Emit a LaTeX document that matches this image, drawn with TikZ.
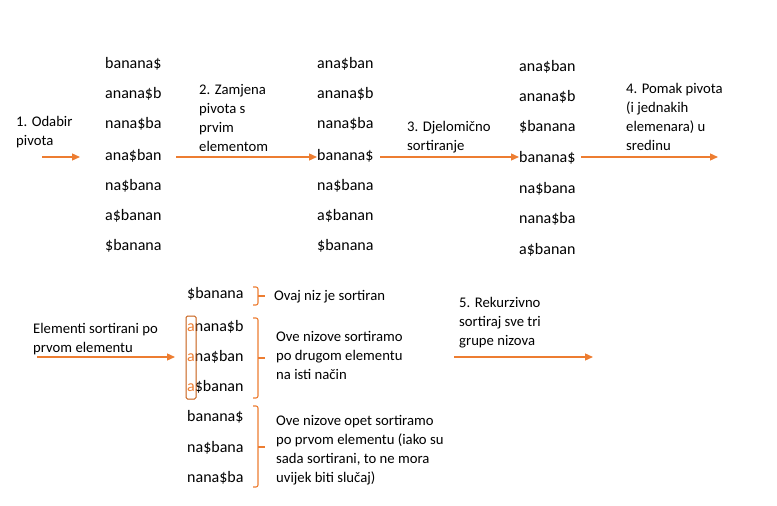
\documentclass[tikz,border=0pt]{standalone}
\usepackage{fontspec}
\setmainfont{Carlito}
\usepackage{xcolor}
\usepackage{tikz}
\usetikzlibrary{positioning,arrows.meta}
\definecolor{orng}{RGB}{237,125,49}
\definecolor{orngdk}{RGB}{197,90,17}
\tikzset{
  str/.style ={anchor=base west, inner sep=0pt, font=\fontsize{16}{19}\selectfont},
  lbl/.style ={anchor=base west, inner sep=0pt, align=left,
               font=\fontsize{14.7}{19}\selectfont},
  ar/.style  ={-{Triangle[length=8pt,width=7pt]}, draw=orng, line width=1.3pt},
  brk/.style ={draw=orng, line width=1.1pt, rounded corners=2pt},
  abox/.style={draw=orngdk, line width=1pt, rounded corners=1.5pt},
}
\newcommand{\oa}{{\color{orng}a}}

\begin{document}
\begin{tikzpicture}[x=1pt,y=-1pt]
\useasboundingbox (0,0) rectangle (777,506);
% three columns of the first step
\foreach \y/\s [count=\i] in {68/banana\$, 98/anana\$b, 128/nana\$ba, 160/ana\$ban,
                              190/na\$bana, 220/a\$banan, 250/\$banana}{
  \node[str] (p\i) at (105,\y) {\s};
}
\foreach \y/\s [count=\i] in {68/ana\$ban, 98/anana\$b, 128/nana\$ba, 160/banana\$,
                              190/na\$bana, 220/a\$banan, 250/\$banana}{
  \node[str] (z\i) at (317,\y) {\s};
}
\foreach \y/\s [count=\i] in {71/ana\$ban, 101/anana\$b, 131/\$banana, 162/banana\$,
                              193/na\$bana, 223/nana\$ba, 254/a\$banan}{
  \node[str] (d\i) at (519,\y) {\s};
}
% labels sit on the baseline of their last line
\node[lbl] (odabir) at (16,145) {1. Odabir\\pivota};
\node[lbl] (zamjena) at (199,151) {2. Zamjena\\pivota s\\prvim\\elementom};
\node[lbl] (djelom) at (407,150) {3. Djelomično\\sortiranje};
\node[lbl] (pomak) at (626,150) {4. Pomak pivota\\(i jednakih\\elemenara) u\\sredinu};
\coordinate (o1) at (42,157);  \coordinate (o2) at (80,157);
\coordinate (z0) at (176,157); \coordinate (d0) at (380,157);
\coordinate (m1) at (581,157); \coordinate (m2) at (718,157);
\draw[ar] (o1) -- (o2);
\draw[ar] (z0) -- (z4.west |- z0);
\draw[ar] (d0) -- (d4.west |- d0);
\draw[ar] (m1) -- (m2);
% result after moving the pivot
\foreach \y/\s [count=\i] in {298/\$banana, 331/\oa nana\$b, 361/\oa na\$ban, 391/\oa\$banan,
                              421/banana\$, 452/na\$bana, 482/nana\$ba}{
  \node[str] (r\i) at (187,\y) {\s};
}
\draw[abox] (186,316) rectangle (196,399);
\draw[brk] (253,287) -- (258,287) -- (258,305) -- (253,305);
\draw[brk] (258,296) -- (265,296);
\draw[brk] (253,318) -- (258,318) -- (258,398) -- (253,398);
\draw[brk] (258,358) -- (265,358);
\draw[brk] (253,406) -- (258,406) -- (258,487) -- (253,487);
\draw[brk] (258,447) -- (265,447);
\node[lbl] (sortiran) at (274,300) {Ovaj niz je sortiran};
\node[lbl] (drugom) at (276,379) {Ove nizove sortiramo\\po drugom elementu\\na isti način};
\node[lbl] (opet) at (276,482) {Ove nizove opet sortiramo\\po prvom elementu (iako su\\sada sortirani, to ne mora\\uvijek biti slučaj)};
\node[lbl] (elementi) at (33,352) {Elementi sortirani po\\prvom elementu};
\node[lbl] (rekurz) at (459,345) {5. Rekurzivno\\sortiraj sve tri\\grupe nizova};
\coordinate (e1) at (37,357);  \coordinate (e2) at (175,357);
\coordinate (k1) at (454,357); \coordinate (k2) at (593,357);
\draw[ar] (e1) -- (e2);
\draw[ar] (k1) -- (k2);
\end{tikzpicture}
\end{document}
